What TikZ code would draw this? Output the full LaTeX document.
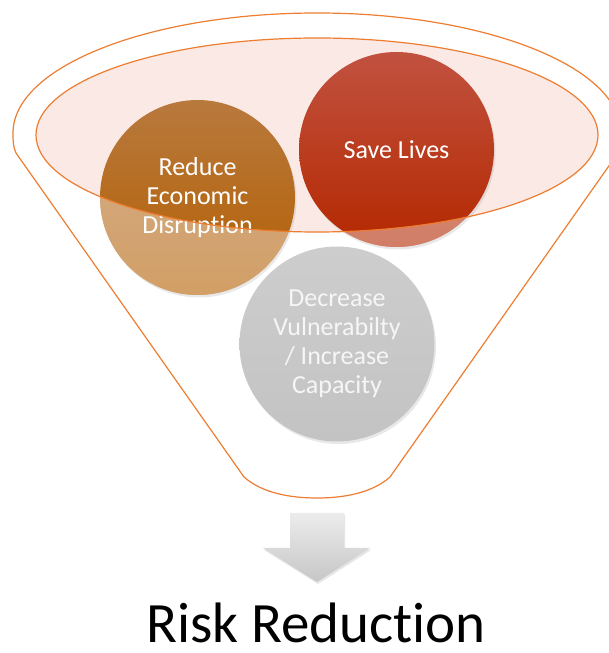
\documentclass[tikz,border=0pt]{standalone}
\usepackage{fontspec}
\setmainfont[Ligatures=NoCommon]{Carlito}
\usetikzlibrary{shadows}

\definecolor{funnelorange}{RGB}{237,125,49}
\definecolor{lipfill}{RGB}{251,233,229}
\definecolor{lifetop}{RGB}{193,82,64}
\definecolor{lifebot}{RGB}{180,40,0}
\definecolor{econtop}{RGB}{184,121,62}
\definecolor{econbot}{RGB}{180,95,0}
\definecolor{vulntop}{RGB}{205,205,205}
\definecolor{vulnbot}{RGB}{195,195,195}
\definecolor{vulntext}{RGB}{246,246,246}
\definecolor{arrowtop}{RGB}{236,236,236}
\definecolor{arrowbot}{RGB}{198,198,198}

\begin{document}
\begin{tikzpicture}[x=1pt, y=1pt,
  funnel/.style={draw=funnelorange, line width=1.2pt},
  bubble/.style={circle, minimum size=195pt, inner sep=0pt, align=center, text=white,
    font=\fontsize{26}{29}\selectfont,
    drop shadow={opacity=0.18, shadow xshift=1.5pt, shadow yshift=-2.5pt}}]
  \useasboundingbox (0,0) rectangle (609,653);
  % funnel body
  \draw[funnel] (244,176) -- (16,500) .. controls (13,506) and (13,513) .. (13,520)
    arc[start angle=180, end angle=0, x radius=304, y radius=120]
    .. controls (621,513) and (621,506) .. (618,500) -- (390,176)
    .. controls (372,160) and (344,155) .. (317,155)
    .. controls (290,155) and (262,160) .. (244,176) -- cycle;
  \fill[lipfill] (317,518) ellipse [x radius=281, y radius=97];
  % goals
  \node[bubble, top color=econtop, bottom color=econbot] (econ) at (197.5,455.5) {Reduce\\Economic\\Disruption};
  \node[bubble, top color=lifetop, bottom color=lifebot] (life) at (396.5,503.5) {Save Lives};
  \node[bubble, top color=vulntop, bottom color=vulnbot, text=vulntext] (vuln) at (337,309) {Decrease\\Vulnerabilty\\/ Increase\\Capacity};
  % wash out the parts below the rim
  \begin{scope}
    \clip (econ.center) circle (97.5) (life.center) circle (97.5);
    \fill[white, opacity=0.4, even odd rule] (0,0) rectangle (609,653)
      (317,518) ellipse [x radius=281, y radius=97];
  \end{scope}
  \draw[funnel] (317,518) ellipse [x radius=281, y radius=97];
  % outlet arrow
  \path[top color=arrowtop, bottom color=arrowbot,
    drop shadow={opacity=0.2, shadow xshift=1pt, shadow yshift=-2pt}]
    (290,140) -- (344,140) -- (344,105) -- (370,105) -- (317,71) -- (263,105) -- (290,105) -- cycle;
  \node[font=\fontsize{57}{68}\selectfont, anchor=base, inner sep=0pt] (risk) at (316,10) {Risk Reduction};
\end{tikzpicture}
\end{document}
